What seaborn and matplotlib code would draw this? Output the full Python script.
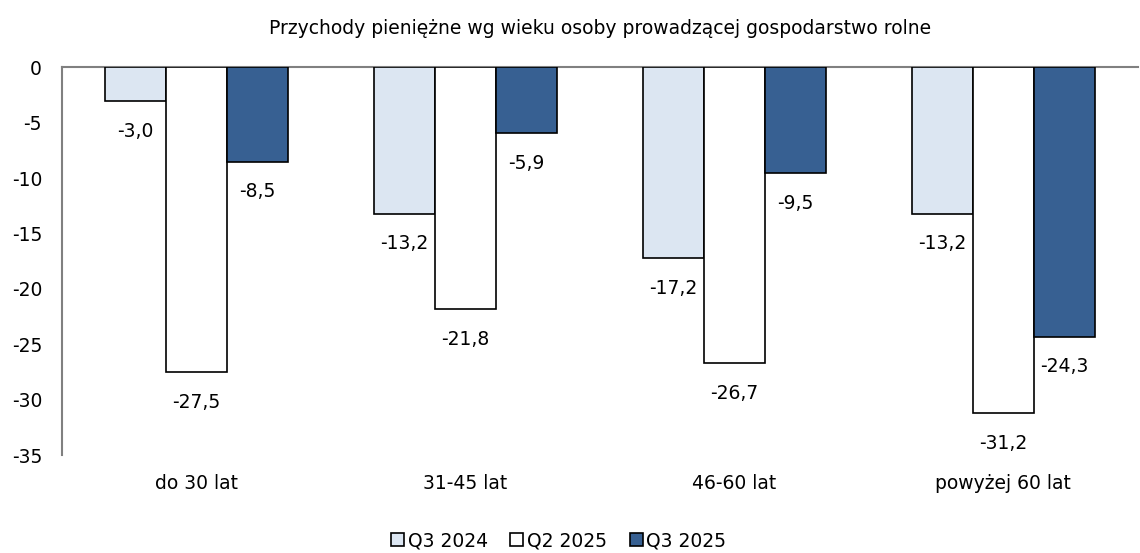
import pandas as pd
import numpy as np
import matplotlib
matplotlib.use("Agg")
import matplotlib.pyplot as plt
import seaborn as sns

# Data
categories = ["do 30 lat", "31-45 lat", "46-60 lat", "powyżej 60 lat"]
series = ["Q3 2024", "Q2 2025", "Q3 2025"]
q3_2024 = [-3.0, -13.2, -17.2, -13.2]
q2_2025 = [-27.5, -21.8, -26.7, -31.2]
q3_2025 = [-8.5, -5.9, -9.5, -24.3]
colors = ["#dce6f2", "#ffffff", "#376092"]

df = pd.DataFrame({
    "kategoria": categories * 3,
    "seria": [s for s in series for _ in categories],
    "wartosc": q3_2024 + q2_2025 + q3_2025,
})

sns.set_style("white")
plt.rcParams["font.family"] = ["DejaVu Sans"]
plt.rcParams["text.color"] = "black"
plt.rcParams["xtick.color"] = "black"
plt.rcParams["ytick.color"] = "black"

fs = 13.5

fig, ax = plt.subplots(figsize=(11.4, 5.53), dpi=100)
fig.subplots_adjust(left=0.054, right=0.998, top=0.878, bottom=0.177)

sns.barplot(data=df, x="kategoria", y="wartosc", hue="seria", order=categories,
            hue_order=series, palette=colors, saturation=1, width=0.68, gap=0,
            edgecolor="black", linewidth=1.2, ax=ax)

for cont in ax.containers:
    ax.bar_label(cont, labels=[f"{v:.1f}".replace(".", ",") for v in cont.datavalues],
                 padding=15, fontsize=fs, color="black")

ax.set_ylim(-35, 0)
ax.set_yticks(np.arange(-35, 1, 5))
ax.set_yticklabels([str(t) for t in range(-35, 1, 5)], fontsize=fs)
ax.tick_params(length=0)
ax.tick_params(axis="y", pad=14)
ax.set_xlabel("")
ax.set_ylabel("")
ax.xaxis.set_ticks_position("top")

for side in ["right", "bottom"]:
    ax.spines[side].set_visible(False)
for side in ["left", "top"]:
    ax.spines[side].set_color("#808080")
    ax.spines[side].set_linewidth(1.5)
ax.spines["top"].set_zorder(0)

# category labels below the plot
ax.set_xticklabels([])
for i, c in enumerate(categories):
    ax.text(i, -36.7, c, ha="center", va="top", fontsize=fs)

ax.set_title("Przychody pieniężne wg wieku osoby prowadzącej gospodarstwo rolne",
             fontsize=fs, pad=24)

ax.legend_.remove()
handles, labels = ax.get_legend_handles_labels()
fig.legend(handles, labels, loc="center", bbox_to_anchor=(0.49, 0.022), ncol=3,
           frameon=False, fontsize=fs, handlelength=0.7, handleheight=0.7,
           handletextpad=0.2, columnspacing=1.2, borderaxespad=0)

fig.savefig("out.png", dpi=100)
